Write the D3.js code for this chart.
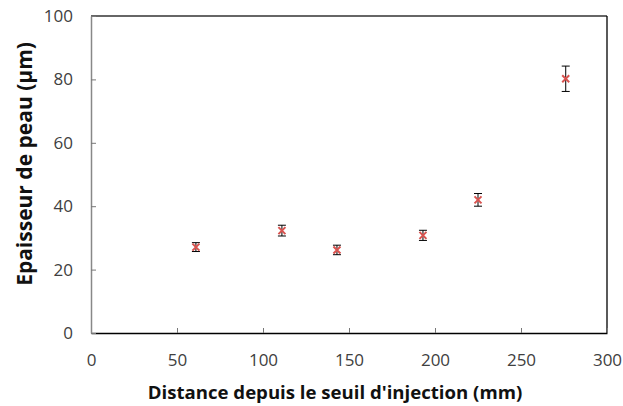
<!DOCTYPE html>
<html><head><meta charset="utf-8">
<script src="https://cdn.jsdelivr.net/npm/d3@7"></script>
<style>body{margin:0;background:#fff}svg{display:block}</style>
</head><body>
<script>
const distances = [61, 111, 143, 193, 225, 276];
const thickness = [27.1, 32.3, 26.2, 30.8, 42.0, 80.2];
const errors = [1.4, 1.7, 1.5, 1.6, 2.0, 4.0];
const xTicks = [0, 50, 100, 150, 200, 250, 300];
const yTicks = [0, 20, 40, 60, 80, 100];
const xTitle = "Distance depuis le seuil d'injection (mm)";
const yTitle = "Epaisseur de peau (µm)";

const W = 623, H = 406;
const m = {l: 91, r: 16, t: 16, b: 73};
const svg = d3.select("body").append("svg").attr("width", W).attr("height", H);
const x = d3.scaleLinear().domain([0, 300]).range([m.l, W - m.r]);
const y = d3.scaleLinear().domain([0, 100]).range([H - m.b, m.t]);
const font = "'Open Sans', 'Liberation Sans', sans-serif";

// frame
svg.append("line").attr("x1", x(0)).attr("x2", x(300)).attr("y1", y(100)).attr("y2", y(100)).attr("stroke", "#333").attr("stroke-width", 1.3);
svg.append("line").attr("x1", x(300)).attr("x2", x(300)).attr("y1", y(100)).attr("y2", y(0)).attr("stroke", "#000").attr("stroke-width", 1.3);

const xa = svg.append("g").attr("transform", `translate(0,${y(0)})`)
  .call(d3.axisBottom(x).tickValues(xTicks).tickSizeInner(-5).tickSizeOuter(0).tickPadding(21));
xa.select(".domain").attr("stroke", "#000").attr("stroke-width", 1.3);
xa.selectAll(".tick line").attr("stroke", "#777");
xa.selectAll("text").attr("font-family", font).attr("font-size", 17).attr("fill", "#404040");

const ya = svg.append("g").attr("transform", `translate(${x(0)},0)`)
  .call(d3.axisLeft(y).tickValues(yTicks).tickSizeInner(-5).tickSizeOuter(0).tickPadding(18));
ya.select(".domain").attr("stroke", "#888").attr("stroke-width", 1.5);
ya.selectAll(".tick line").attr("stroke", "#777");
ya.selectAll("text").attr("font-family", font).attr("font-size", 17).attr("fill", "#404040");

// titles
svg.append("text").attr("x", 335).attr("y", 399).attr("text-anchor", "middle")
  .attr("font-family", font).attr("font-weight", "bold").attr("font-size", 18.6).attr("fill", "#111").text(xTitle);
svg.append("text").attr("transform", `translate(32,164) rotate(-90)`).attr("text-anchor", "middle")
  .attr("font-family", font).attr("font-weight", "bold").attr("font-size", 21).attr("fill", "#111").text(yTitle);

const data = distances.map((d, i) => ({d, v: thickness[i], e: errors[i]}));
const g = svg.append("g");
const cap = 4;
data.forEach(p => {
  const cx = x(p.d), t = y(p.v + p.e), b = y(p.v - p.e);
  g.append("line").attr("x1", cx).attr("x2", cx).attr("y1", t).attr("y2", b).attr("stroke", "#000").attr("stroke-width", 1);
  g.append("line").attr("x1", cx - cap).attr("x2", cx + cap).attr("y1", t).attr("y2", t).attr("stroke", "#000").attr("stroke-width", 1);
  g.append("line").attr("x1", cx - cap).attr("x2", cx + cap).attr("y1", b).attr("y2", b).attr("stroke", "#000").attr("stroke-width", 1);
  const s = 3.5, cy = y(p.v);
  g.append("path").attr("d", `M${cx - s},${cy - s}L${cx + s},${cy + s}M${cx - s},${cy + s}L${cx + s},${cy - s}`)
    .attr("stroke", "#d9534f").attr("stroke-width", 2).attr("fill", "none");
});
</script>
</body></html>
